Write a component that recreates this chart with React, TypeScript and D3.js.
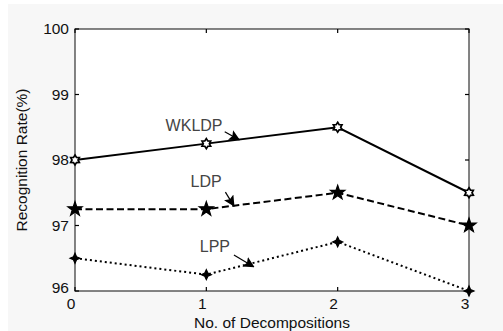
import React, { useEffect, useRef } from 'react';
import * as d3 from 'd3';

const decompositions = [0, 1, 2, 3];
const wkldp = [98, 98.25, 98.5, 97.5];
const ldp = [97.25, 97.25, 97.5, 97];
const lpp = [96.5, 96.25, 96.75, 96];
const yTicks = [96, 97, 98, 99, 100];

// label text, label anchor (data coords), arrow tail -> head (data coords)
const notes = [
  { name: 'WKLDP', tx: 0.69, ty: 98.44, ax: [1.14, 98.43], ah: [1.25, 98.31] },
  { name: 'LDP', tx: 0.88, ty: 97.59, ax: [1.145, 97.51], ah: [1.21, 97.3] },
  { name: 'LPP', tx: 0.95, ty: 96.6, ax: [1.21, 96.55], ah: [1.36, 96.37] },
];

const W = 503;
const H = 331;
const margin = { left: 75, right: 34, top: 29, bottom: 40 };

const star = (points: number, outer: number, inner: number) => {
  const pts: [number, number][] = [];
  for (let i = 0; i < points * 2; i++) {
    const r = i % 2 === 0 ? outer : inner;
    const a = (Math.PI * i) / points - Math.PI / 2;
    pts.push([r * Math.cos(a), r * Math.sin(a)]);
  }
  return 'M' + pts.map((p) => p.join(',')).join('L') + 'Z';
};

const App = () => {
  const ref = useRef<SVGSVGElement>(null);

  useEffect(() => {
    if (!ref.current) return;
    const svg = d3.select(ref.current);
    svg.selectAll('*').remove();

    const x = d3.scaleLinear().domain([0, 3]).range([margin.left, W - margin.right]);
    const y = d3.scaleLinear().domain([96, 100]).range([H - margin.bottom, margin.top]);
    const font = 'Liberation Sans, Arial, sans-serif';

    svg.append('rect').attr('width', W).attr('height', H).attr('fill', '#ffffff');
    svg.append('rect').attr('x', 8).attr('y', 4).attr('width', W - 8).attr('height', H - 4).attr('fill', '#f7f7f7');
    svg
      .append('rect')
      .attr('x', x(0))
      .attr('y', y(100))
      .attr('width', x(3) - x(0))
      .attr('height', y(96) - y(100))
      .attr('fill', '#ffffff');

    const series = [
      { values: wkldp, dash: null, marker: star(6, 5, 3), fill: '#ffffff', sw: 1.7 },
      { values: ldp, dash: '7,3.5', marker: star(5, 7.5, 3), fill: '#000000', sw: 1.2 },
      { values: lpp, dash: '2,3', marker: star(4, 5, 2.2), fill: '#000000', sw: 1.2 },
    ];

    const line = d3
      .line<number>()
      .x((_, i) => x(decompositions[i]))
      .y((d) => y(d));

    series.forEach((s) => {
      svg
        .append('path')
        .attr('d', line(s.values))
        .attr('fill', 'none')
        .attr('stroke', '#000')
        .attr('stroke-width', 2)
        .attr('stroke-dasharray', s.dash);
    });

    // box and ticks
    const axisG = svg.append('g').attr('stroke', '#000').attr('stroke-width', 1.2);
    axisG
      .append('rect')
      .attr('x', x(0))
      .attr('y', y(100))
      .attr('width', x(3) - x(0))
      .attr('height', y(96) - y(100))
      .attr('fill', 'none')
      .attr('stroke', '#333');
    axisG
      .selectAll('line.xb')
      .data(decompositions)
      .join('line')
      .attr('class', 'xb')
      .attr('x1', (d) => x(d))
      .attr('x2', (d) => x(d))
      .attr('y1', y(96))
      .attr('y2', y(96) - 4);
    axisG
      .selectAll('line.xt')
      .data(decompositions)
      .join('line')
      .attr('class', 'xt')
      .attr('x1', (d) => x(d))
      .attr('x2', (d) => x(d))
      .attr('y1', y(100))
      .attr('y2', y(100) + 4);
    axisG
      .selectAll('line.yl')
      .data(yTicks)
      .join('line')
      .attr('class', 'yl')
      .attr('x1', x(0))
      .attr('x2', x(0) + 4)
      .attr('y1', (d) => y(d))
      .attr('y2', (d) => y(d));
    axisG
      .selectAll('line.yr')
      .data(yTicks)
      .join('line')
      .attr('class', 'yr')
      .attr('x1', x(3))
      .attr('x2', x(3) - 4)
      .attr('y1', (d) => y(d))
      .attr('y2', (d) => y(d));

    // markers
    series.forEach((s) => {
      svg
        .append('g')
        .selectAll('path')
        .data(s.values)
        .join('path')
        .attr('d', s.marker)
        .attr('transform', (d, i) => `translate(${x(decompositions[i])},${y(d)})`)
        .attr('fill', s.fill)
        .attr('stroke', '#000')
        .attr('stroke-width', s.sw);
    });

    // tick labels
    svg
      .append('g')
      .attr('font-family', font)
      .attr('font-size', 15.5)
      .attr('fill', '#111')
      .selectAll('text')
      .data(yTicks)
      .join('text')
      .attr('x', x(0) - 6)
      .attr('y', (d) => y(d) - (d === 96 ? 3 : 0))
      .attr('dy', '0.35em')
      .attr('text-anchor', 'end')
      .text((d) => d);
    svg
      .append('g')
      .attr('font-family', font)
      .attr('font-size', 15.5)
      .attr('fill', '#111')
      .selectAll('text')
      .data(decompositions)
      .join('text')
      .attr('x', (d) => x(d) - 4)
      .attr('y', y(96) + 18)
      .attr('text-anchor', 'middle')
      .text((d) => d);

    svg
      .append('text')
      .attr('x', (x(0) + x(3)) / 2)
      .attr('y', H - 3)
      .attr('text-anchor', 'middle')
      .attr('font-family', font)
      .attr('font-size', 15.5)
      .attr('fill', '#111')
      .text('No. of Decompositions');
    svg
      .append('text')
      .attr('transform', `translate(27,${(y(96) + y(100)) / 2}) rotate(-90)`)
      .attr('text-anchor', 'middle')
      .attr('font-family', font)
      .attr('font-size', 15.5)
      .attr('fill', '#111')
      .text('Recognition Rate(%)');

    // annotations
    const defs = svg.append('defs');
    defs
      .append('marker')
      .attr('id', 'head')
      .attr('viewBox', '0 0 10 10')
      .attr('refX', 9)
      .attr('refY', 5)
      .attr('markerWidth', 11)
      .attr('markerHeight', 11)
      .attr('markerUnits', 'userSpaceOnUse')
      .attr('orient', 'auto')
      .append('path')
      .attr('d', 'M0,0L10,5L0,10L2,5Z')
      .attr('fill', '#000');

    notes.forEach((n) => {
      svg
        .append('text')
        .attr('x', x(n.tx))
        .attr('y', y(n.ty))
        .attr('font-family', font)
        .attr('font-size', 16)
        .attr('fill', '#444')
        .text(n.name);
      svg
        .append('line')
        .attr('x1', x(n.ax[0]))
        .attr('y1', y(n.ax[1]))
        .attr('x2', x(n.ah[0]))
        .attr('y2', y(n.ah[1]))
        .attr('stroke', '#000')
        .attr('stroke-width', 1.2)
        .attr('marker-end', 'url(#head)');
    });
  }, []);

  return (
    <svg
      ref={ref}
      width={W}
      height={H}
      style={{ position: 'absolute', left: 0, top: 0 }}
    />
  );
};

export default App;
